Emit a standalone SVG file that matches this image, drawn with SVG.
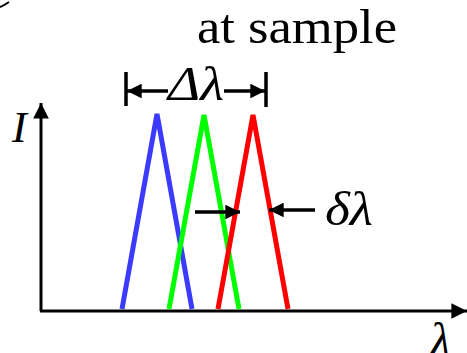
<svg xmlns="http://www.w3.org/2000/svg" width="467" height="353" viewBox="0 0 467 353">
<style>
.t{font-family:"Liberation Serif","Times New Roman",serif;fill:#000}
.i{font-style:italic}
.ax{stroke:#000;stroke-width:3;fill:none}
.ar{stroke:#000;stroke-width:3.5;fill:none}
.pk{stroke-width:5;fill:none;stroke-linejoin:bevel}
</style>
<defs>
<marker id="ah" viewBox="0 0 10 10" refX="10" refY="5" markerWidth="4.2" markerHeight="4.2" orient="auto" markerUnits="strokeWidth">
<path d="M0,0 L10,5 L0,10 Z" fill="#000"/>
</marker>
<marker id="ahx" viewBox="0 0 10 10" refX="10" refY="5" markerWidth="5.5" markerHeight="5.2" orient="auto" markerUnits="strokeWidth">
<path d="M0,0 L10,5 L0,10 Z" fill="#000"/>
</marker>
</defs>
<path d="M0,7 Q4,5.5 9,2" stroke="#000" stroke-width="2" fill="none"/>
<g id="title"><text class="t" x="197" y="43" font-size="48" textLength="200" lengthAdjust="spacingAndGlyphs">at sample</text></g>
<g id="axes">
<line class="ax" x1="41" y1="311" x2="41" y2="103" marker-end="url(#ahx)"/>
<line class="ax" x1="40" y1="311" x2="467" y2="311" marker-end="url(#ahx)"/>
<text class="t i" x="12" y="142" font-size="44">I</text>
<text class="t i" x="430" y="356" font-size="48">λ</text>
</g>
<g id="peaks">
<polyline class="pk" stroke="#3b3bff" points="122,309 157,114 192,309"/>
<polyline class="pk" stroke="#00ff00" points="169,309 204,115 239,309"/>
<polyline class="pk" stroke="#ff0000" points="218,309 253,115 288,309"/>
</g>
<g id="connectors">
<line x1="126" y1="72" x2="126" y2="106" stroke="#000" stroke-width="3.5"/>
<line x1="266" y1="72" x2="266" y2="107" stroke="#000" stroke-width="3.5"/>
<line class="ar" x1="168" y1="91" x2="127" y2="91" marker-end="url(#ah)"/>
<line class="ar" x1="224" y1="91" x2="265" y2="91" marker-end="url(#ah)"/>
<line class="ar" x1="195" y1="212" x2="240" y2="212" marker-end="url(#ah)"/>
<line class="ar" x1="315" y1="210" x2="269" y2="210" marker-end="url(#ah)"/>
</g>
<g id="labels">
<text class="t i" x="168" y="100" font-size="48" textLength="56" lengthAdjust="spacingAndGlyphs">Δλ</text>
<text class="t i" x="325" y="225" font-size="48" textLength="48" lengthAdjust="spacingAndGlyphs">δλ</text>
</g>
</svg>
